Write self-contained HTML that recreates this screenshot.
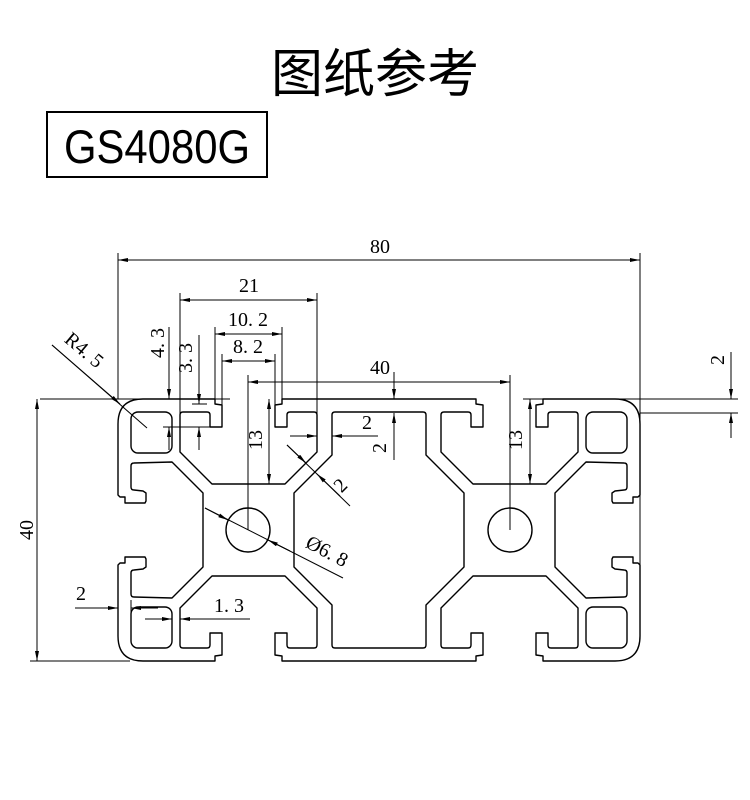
<!DOCTYPE html>
<html><head><meta charset="utf-8"><style>
html,body{margin:0;padding:0;background:#fff;}
svg{display:block;}
.p{fill:none;stroke:#000;stroke-width:1.4;stroke-linejoin:round;}
.d{fill:none;stroke:#000;stroke-width:1;}
.t{font-family:"Liberation Serif",serif;font-size:20px;fill:#000;}
</style></head><body>
<svg width="750" height="800" viewBox="0 0 750 800" xmlns="http://www.w3.org/2000/svg">
<defs>
<marker id="a" viewBox="0 0 10 4" refX="10" refY="2" markerWidth="10" markerHeight="4" markerUnits="userSpaceOnUse" orient="auto-start-reverse">
<path d="M0,0 L10,2 L0,4 Z" fill="#000"/></marker>
<g id="q">
<path class="p" d="M203,530 L203,493 L172,462 L134,463 Q131,463 131,466 L131,487 Q131,490 134,490 L143,491 L146,493 L146,501 L145,503 L125,503 L125,497 L120,497 L118,495 L118,424 Q118,399 143,399 L215,399 L215,404 L222,405 L222,427 L210,427 L210,415 Q210,412 207,412 L183,412 Q180,412 180,415 L180,452 L212,484 L285,484 L317,452 L317,415 Q317,412 314,412 L290,412 Q287,412 287,415 L287,427 L275,427 L275,405 L282,404 L282,399 L379,399"/>
<path class="p" d="M379,412 L335,412 Q332,412 332,415 L332,455 L294,493 L294,530"/>
<rect class="p" x="131" y="412" width="41" height="41" rx="7"/>
</g>
</defs>
<text x="375" y="92" text-anchor="middle" style="font-family:'Liberation Sans','Noto Sans CJK SC',sans-serif;font-size:52px;">图纸参考</text>
<rect x="47" y="112" width="220" height="65" fill="none" stroke="#000" stroke-width="2"/>
<text x="64" y="163" textLength="186" lengthAdjust="spacingAndGlyphs" style="font-family:'Liberation Sans',sans-serif;font-size:47px;">GS4080G</text>

<use href="#q"/>
<use href="#q" transform="translate(758,0) scale(-1,1)"/>
<use href="#q" transform="translate(0,1060) scale(1,-1)"/>
<use href="#q" transform="translate(758,1060) scale(-1,-1)"/>
<circle class="p" cx="248" cy="530" r="22"/>
<circle class="p" cx="510" cy="530" r="22"/>

<line class="d" x1="40" y1="399" x2="118" y2="399"/>
<line class="d" x1="118" y1="399" x2="230" y2="399"/>
<line class="d" x1="282" y1="399" x2="476" y2="399"/>
<line class="d" x1="523" y1="399" x2="738" y2="399"/>
<line class="d" x1="640" y1="413" x2="738" y2="413"/>
<line class="d" x1="30" y1="661" x2="130" y2="661"/>
<line class="d" x1="118" y1="253" x2="118" y2="399"/>
<line class="d" x1="640" y1="253" x2="640" y2="640"/>
<line class="d" x1="118" y1="260" x2="640" y2="260" marker-start="url(#a)" marker-end="url(#a)"/>
<text class="t" x="380" y="253" text-anchor="middle">80</text>
<line class="d" x1="180" y1="293" x2="180" y2="452"/>
<line class="d" x1="317" y1="293" x2="317" y2="452"/>
<line class="d" x1="180" y1="300" x2="317" y2="300" marker-start="url(#a)" marker-end="url(#a)"/>
<text class="t" x="249" y="292" text-anchor="middle">21</text>
<line class="d" x1="215" y1="327" x2="215" y2="399"/>
<line class="d" x1="282" y1="327" x2="282" y2="399"/>
<line class="d" x1="215" y1="334" x2="282" y2="334" marker-start="url(#a)" marker-end="url(#a)"/>
<text class="t" x="248" y="326" text-anchor="middle">10. 2</text>
<line class="d" x1="222" y1="354" x2="222" y2="405"/>
<line class="d" x1="275" y1="354" x2="275" y2="405"/>
<line class="d" x1="222" y1="361" x2="275" y2="361" marker-start="url(#a)" marker-end="url(#a)"/>
<text class="t" x="248" y="353" text-anchor="middle">8. 2</text>
<line class="d" x1="248" y1="375" x2="248" y2="530"/>
<line class="d" x1="510" y1="375" x2="510" y2="530"/>
<line class="d" x1="248" y1="382" x2="510" y2="382" marker-start="url(#a)" marker-end="url(#a)"/>
<text class="t" x="380" y="374" text-anchor="middle">40</text>
<line class="d" x1="169" y1="327" x2="169" y2="399" marker-end="url(#a)"/>
<line class="d" x1="169" y1="450" x2="169" y2="427" marker-end="url(#a)"/>
<line class="d" x1="163" y1="427" x2="222" y2="427"/>
<text class="t" transform="translate(164,343) rotate(-90)" text-anchor="middle">4. 3</text>
<line class="d" x1="199" y1="335" x2="199" y2="404" marker-end="url(#a)"/>
<line class="d" x1="199" y1="450" x2="199" y2="427" marker-end="url(#a)"/>
<line class="d" x1="192" y1="404" x2="207" y2="404"/>
<text class="t" transform="translate(192,358) rotate(-90)" text-anchor="middle">3. 3</text>
<line class="d" x1="52" y1="345" x2="147" y2="428"/>
<line class="d" x1="52" y1="345" x2="120" y2="404" marker-end="url(#a)"/>
<text class="t" transform="translate(80,355) rotate(40)" text-anchor="middle">R4. 5</text>
<line class="d" x1="269" y1="440" x2="269" y2="399" marker-end="url(#a)"/>
<line class="d" x1="269" y1="440" x2="269" y2="484" marker-end="url(#a)"/>
<text class="t" transform="translate(262,440) rotate(-90)" text-anchor="middle">13</text>
<line class="d" x1="530" y1="440" x2="530" y2="399" marker-end="url(#a)"/>
<line class="d" x1="530" y1="440" x2="530" y2="484" marker-end="url(#a)"/>
<text class="t" transform="translate(522,440) rotate(-90)" text-anchor="middle">13</text>
<line class="d" x1="290" y1="436" x2="317" y2="436" marker-end="url(#a)"/>
<line class="d" x1="378" y1="436" x2="332" y2="436" marker-end="url(#a)"/>
<text class="t" x="367" y="429" text-anchor="middle">2</text>
<line class="d" x1="394" y1="372" x2="394" y2="399" marker-end="url(#a)"/>
<line class="d" x1="394" y1="460" x2="394" y2="413" marker-end="url(#a)"/>
<text class="t" transform="translate(386,448) rotate(-90)" text-anchor="middle">2</text>
<line class="d" x1="287" y1="445" x2="350" y2="506"/>
<line class="d" x1="287" y1="445" x2="306" y2="463" marker-end="url(#a)"/>
<line class="d" x1="340" y1="496" x2="317" y2="474" marker-end="url(#a)"/>
<text class="t" transform="translate(345,490) rotate(-45)" text-anchor="middle">2</text>
<line class="d" x1="731" y1="352" x2="731" y2="399" marker-end="url(#a)"/>
<line class="d" x1="731" y1="438" x2="731" y2="413" marker-end="url(#a)"/>
<text class="t" transform="translate(724,360) rotate(-90)" text-anchor="middle">2</text>
<line class="d" x1="205" y1="508" x2="343" y2="578"/>
<line class="d" x1="205" y1="508" x2="228" y2="520" marker-end="url(#a)"/>
<line class="d" x1="290" y1="551" x2="268" y2="540" marker-end="url(#a)"/>
<text class="t" transform="translate(324,557) rotate(28)" text-anchor="middle">Ø6. 8</text>
<line class="d" x1="37" y1="399" x2="37" y2="661" marker-start="url(#a)" marker-end="url(#a)"/>
<text class="t" transform="translate(33,530) rotate(-90)" text-anchor="middle">40</text>
<line class="d" x1="75" y1="608" x2="118" y2="608" marker-end="url(#a)"/>
<line class="d" x1="158" y1="608" x2="131" y2="608" marker-end="url(#a)"/>
<line class="d" x1="131" y1="600" x2="131" y2="612"/>
<text class="t" x="81" y="600" text-anchor="middle">2</text>
<line class="d" x1="145" y1="619" x2="172" y2="619" marker-end="url(#a)"/>
<line class="d" x1="250" y1="619" x2="180" y2="619" marker-end="url(#a)"/>
<text class="t" x="229" y="612" text-anchor="middle">1. 3</text>
</svg>
</body></html>
